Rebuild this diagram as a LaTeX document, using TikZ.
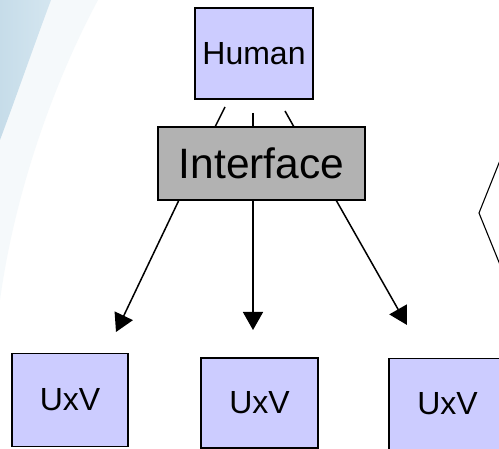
\documentclass[tikz,border=0pt]{standalone}
\usepackage{fontspec}
\setmainfont{Liberation Sans}
\usetikzlibrary{arrows.meta}
\definecolor{boxblue}{RGB}{204,204,255}
\definecolor{boxgray}{RGB}{178,178,178}
\definecolor{swooshdark}{RGB}{198,220,233}
\definecolor{swoosh}{RGB}{212,230,240}
\definecolor{swooshlight}{RGB}{245,249,251}
\tikzset{
  unitbox/.style={draw=black, line width=1.7pt, fill=boxblue, inner sep=0pt,
    outer sep=0pt, font=\fontsize{32}{32}\selectfont},
  ifacebox/.style={draw=black, line width=1.7pt, fill=boxgray, inner sep=0pt,
    outer sep=0pt, font=\fontsize{42.5}{42.5}\selectfont},
  link/.style={line width=1.5pt},
  feed/.style={line width=1.5pt, -{Triangle[length=18pt,width=20pt]}},
}
\begin{document}
\begin{tikzpicture}[x=1pt,y=-1pt]
\useasboundingbox (0,0) rectangle (499,449);
\clip (0,0) rectangle (499,449);
\fill[white] (0,0) rectangle (499,449);

% faint backdrop sweep along the left edge
\fill[swooshlight] (0,0) -- (98,0) .. controls (55,80) and (15,190) .. (0,300) -- cycle;
\shade[left color=swooshdark, right color=swoosh]
  (0,0) -- (51,0) .. controls (36,40) and (15,100) .. (0,140) -- cycle;

% boxes
\node[unitbox, minimum width=118pt, minimum height=91pt] (human) at (254,53.5) {Human};
\node[ifacebox, minimum width=207pt, minimum height=73pt] (iface) at (261.5,163.5) {Interface};
\node[unitbox, minimum width=116pt, minimum height=93pt] (u1) at (70,400) {UxV};
\node[unitbox, minimum width=117pt, minimum height=90pt] (u2) at (259.5,403) {UxV};
\node[unitbox, minimum width=117pt, minimum height=91pt] (u3) at (447.5,404) {UxV};

% stubs from the human down to the interface
\coordinate (h1) at (225,107);
\coordinate (h2) at (253,113);
\coordinate (h3) at (285,111);
\draw[link] (h1) -- ([xshift=-46.5pt]iface.north);
\draw[link] (h2) -- ([xshift=-8.5pt]iface.north);
\draw[link] (h3) -- ([xshift=32.5pt]iface.north);

% commands from the interface towards the vehicles
\coordinate (t1) at (116,332);
\coordinate (t2) at (253,330);
\coordinate (t3) at (407,325);
\draw[feed] ([xshift=-82.5pt]iface.south) -- (t1);
\draw[feed] ([xshift=-8.5pt]iface.south) -- (t2);
\draw[feed] ([xshift=74.5pt]iface.south) -- (t3);

% edge of a shape running off the right side
\coordinate (r1) at (505,148);
\coordinate (r2) at (479,213);
\coordinate (r3) at (505,277);
\draw[line width=1.1pt] (r1) -- (r2) -- (r3);
\end{tikzpicture}
\end{document}
